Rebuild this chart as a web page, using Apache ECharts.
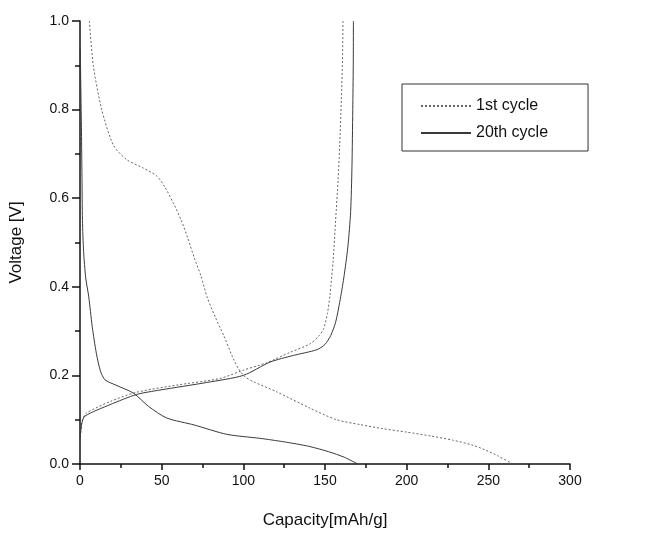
<!DOCTYPE html>
<html>
<head>
<meta charset="utf-8">
<style>
  html, body { margin: 0; padding: 0; background: #fff; }
  #chart { width: 646px; height: 534px; }
</style>
<script src="https://cdn.jsdelivr.net/npm/echarts@6/dist/echarts.min.js"></script>
</head>
<body>
<div id="chart"></div>
<script>
// Capacity [mAh/g] / voltage [V] pairs for each half-cycle
const cycle1Discharge = [
  [5.7, 1.0], [8.2, 0.898], [13.3, 0.8], [20.4, 0.72], [28.6, 0.687],
  [38.8, 0.668], [47, 0.65], [52, 0.625], [57, 0.59], [62, 0.55],
  [66, 0.51], [70, 0.465], [74, 0.425], [78, 0.375], [83, 0.33],
  [88, 0.29], [93, 0.245], [97, 0.215], [101, 0.197], [106, 0.186],
  [120.4, 0.163], [140.8, 0.126], [157, 0.1], [171.5, 0.089],
  [185, 0.08], [200, 0.072], [215, 0.063], [228, 0.054], [240, 0.043],
  [248, 0.032], [256, 0.018], [265, 0.0]
];
const cycle1Charge = [
  [0.5, 0.07], [1.5, 0.1], [4, 0.115], [18.4, 0.141], [34.7, 0.162],
  [59, 0.178], [85.7, 0.193], [100, 0.212], [114, 0.228], [128.6, 0.252],
  [140.8, 0.271], [146, 0.288], [149, 0.304], [151.5, 0.34], [153, 0.38],
  [155, 0.46], [156.5, 0.55], [158, 0.64], [159, 0.72], [160, 0.82],
  [160.7, 0.91], [161, 1.0]
];
const cycle20Discharge = [
  [0.2, 0.935], [0.5, 0.85], [0.9, 0.75], [1.2, 0.65], [1.5, 0.55],
  [2.2, 0.48], [3.5, 0.42], [5.3, 0.379], [7.5, 0.31], [10, 0.25],
  [12.5, 0.21], [15.3, 0.19], [22, 0.178], [32.7, 0.16], [42, 0.13],
  [53, 0.104], [70, 0.088], [89.8, 0.067], [110, 0.058], [125, 0.05],
  [140, 0.04], [152, 0.028], [162, 0.015], [170, 0.0]
];
const cycle20Charge = [
  [0, 0.056], [1, 0.09], [3, 0.108], [18.4, 0.134], [34.7, 0.157],
  [49, 0.167], [77.6, 0.184], [100, 0.2], [116.3, 0.23], [130.6, 0.245],
  [145, 0.258], [150, 0.27], [153.5, 0.29], [156.5, 0.32], [159, 0.365],
  [161.5, 0.42], [164, 0.49], [165.7, 0.57], [166.5, 0.67], [167, 0.8],
  [167.3, 0.9], [167.4, 1.0]
];
const seriesNames = ['1st cycle', '20th cycle'];

const FONT = '"Liberation Sans", Arial, sans-serif';
const dotted = { color: '#666', width: 1, type: [2, 2] };
const solid = { color: '#3a3a3a', width: 1, type: 'solid' };

const chart = echarts.init(document.getElementById('chart'), null, { renderer: 'canvas' });

function lineSeries(name, data, style) {
  return {
    name: name,
    type: 'line',
    data: data,
    symbol: 'none',
    smooth: 0.25,
    lineStyle: style,
    itemStyle: { color: style.color, opacity: 0 },
    silent: true,
    animation: false
  };
}

chart.setOption({
  animation: false,
  backgroundColor: '#fff',
  grid: { left: 80, right: 76, top: 21, bottom: 64, containLabel: false },
  legend: {
    left: 402,
    top: 84,
    orient: 'vertical',
    data: seriesNames,
    borderColor: '#333',
    borderWidth: 1,
    borderRadius: 0,
    padding: [14, 40, 10, 18],
    itemGap: 11,
    itemWidth: 50,
    itemHeight: 14,
    itemStyle: { opacity: 0 },
    textStyle: { fontFamily: FONT, fontSize: 16, color: '#111' }
  },
  xAxis: {
    type: 'value',
    min: 0, max: 300, interval: 50,
    name: 'Capacity[mAh/g]',
    nameLocation: 'middle',
    nameGap: 48,
    nameTextStyle: { fontFamily: FONT, fontSize: 17, color: '#111' },
    axisLine: { lineStyle: { color: '#111', width: 1.5 } },
    axisTick: { show: true, inside: false, length: 6, lineStyle: { color: '#111', width: 1.5 } },
    minorTick: { show: true, splitNumber: 2, length: 4, lineStyle: { color: '#111', width: 1.5 } },
    splitLine: { show: false },
    axisLabel: { fontFamily: FONT, fontSize: 14, color: '#111', margin: 10 }
  },
  yAxis: {
    type: 'value',
    min: 0, max: 1, interval: 0.2,
    name: 'Voltage [V]',
    nameLocation: 'middle',
    nameGap: 55,
    nameTextStyle: { fontFamily: FONT, fontSize: 17, color: '#111' },
    axisLine: { show: true, lineStyle: { color: '#111', width: 1.5 } },
    axisTick: { show: true, inside: false, length: 8, lineStyle: { color: '#111', width: 1.5 } },
    minorTick: { show: true, splitNumber: 2, length: 5, lineStyle: { color: '#111', width: 1.5 } },
    splitLine: { show: false },
    axisLabel: {
      fontFamily: FONT, fontSize: 14, color: '#111', margin: 11,
      formatter: function (v) { return v.toFixed(1); }
    }
  },
  series: [
    lineSeries(seriesNames[0], cycle1Discharge, dotted),
    lineSeries(seriesNames[0], cycle1Charge, dotted),
    lineSeries(seriesNames[1], cycle20Discharge, solid),
    lineSeries(seriesNames[1], cycle20Charge, solid)
  ]
});
</script>
</body>
</html>
